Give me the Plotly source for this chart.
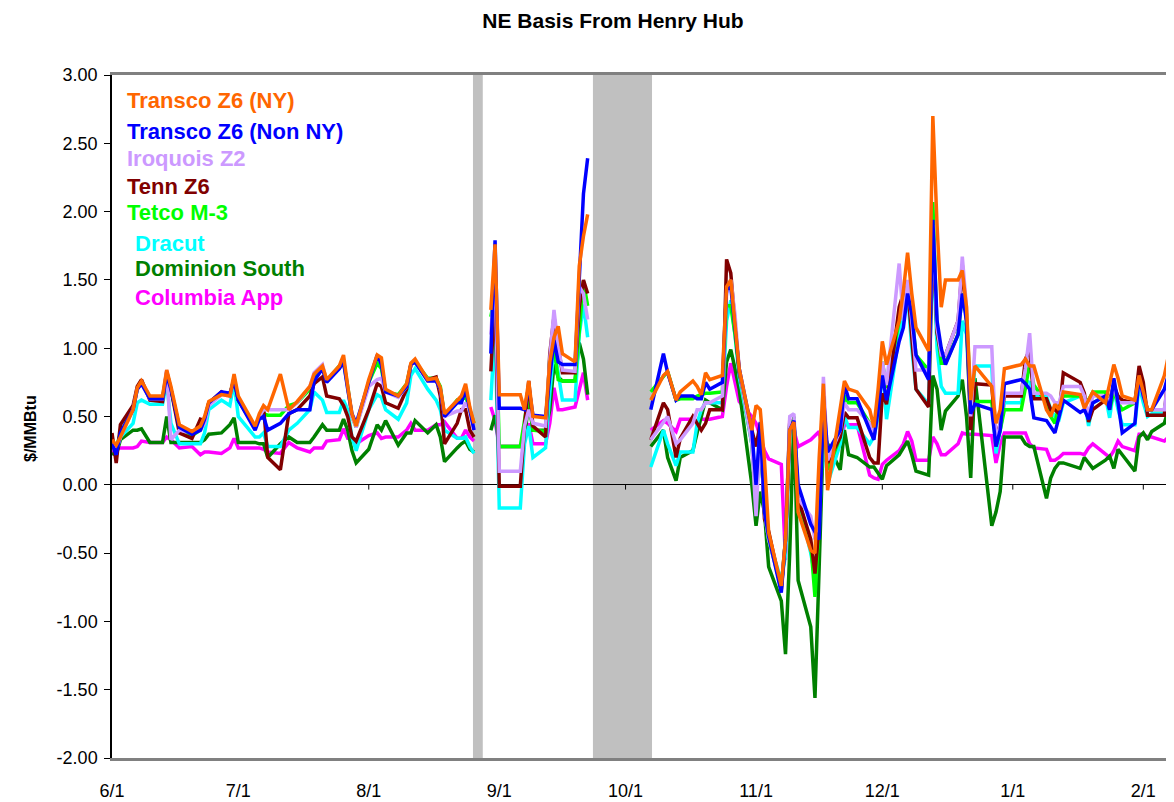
import plotly.graph_objects as go

# ---------------- data ----------------
dates_a = ["2005-06-01","2005-06-02","2005-06-03","2005-06-06","2005-06-07","2005-06-08","2005-06-10","2005-06-13","2005-06-14","2005-06-15",
           "2005-06-17","2005-06-20","2005-06-22","2005-06-23","2005-06-24","2005-06-27","2005-06-29","2005-06-30","2005-07-01","2005-07-05",
           "2005-07-06","2005-07-07","2005-07-08","2005-07-11","2005-07-13","2005-07-15","2005-07-18","2005-07-19","2005-07-21","2005-07-22",
           "2005-07-25","2005-07-26","2005-07-27","2005-07-28","2005-07-29","2005-08-01","2005-08-03","2005-08-04","2005-08-05","2005-08-08",
           "2005-08-10","2005-08-11","2005-08-12","2005-08-15","2005-08-17","2005-08-18","2005-08-19","2005-08-22","2005-08-23","2005-08-24",
           "2005-08-25","2005-08-26"]
gap_1 = "2005-08-29"
dates_b = ["2005-08-30","2005-08-31","2005-09-01","2005-09-06","2005-09-07","2005-09-08","2005-09-09","2005-09-12","2005-09-13","2005-09-14",
           "2005-09-15","2005-09-16","2005-09-19","2005-09-20","2005-09-21","2005-09-22"]
gap_2 = "2005-09-26"
dates_c = ["2005-10-07","2005-10-10","2005-10-11","2005-10-13","2005-10-14","2005-10-17","2005-10-18","2005-10-19","2005-10-20","2005-10-21",
           "2005-10-24","2005-10-25","2005-10-26","2005-10-27","2005-10-28","2005-10-31","2005-11-01","2005-11-02","2005-11-03","2005-11-04",
           "2005-11-07","2005-11-08","2005-11-09","2005-11-10","2005-11-11","2005-11-14","2005-11-15","2005-11-16","2005-11-17","2005-11-18",
           "2005-11-21","2005-11-22","2005-11-23","2005-11-25","2005-11-28","2005-11-29","2005-11-30","2005-12-01","2005-12-02","2005-12-05",
           "2005-12-06","2005-12-07","2005-12-08","2005-12-09","2005-12-12","2005-12-13","2005-12-14","2005-12-15","2005-12-16","2005-12-19",
           "2005-12-20","2005-12-21","2005-12-22","2005-12-23","2005-12-27","2005-12-28","2005-12-29","2005-12-30","2006-01-03","2006-01-04",
           "2006-01-05","2006-01-06","2006-01-09","2006-01-10","2006-01-11","2006-01-12","2006-01-13","2006-01-17","2006-01-18","2006-01-19",
           "2006-01-20","2006-01-23","2006-01-24","2006-01-25","2006-01-26","2006-01-27","2006-01-30","2006-01-31","2006-02-01","2006-02-02",
           "2006-02-03","2006-02-06","2006-02-07","2006-02-08"]

transco_ny_a = [.33,.29,.35,.55,.71,.76,.65,.65,.84,.72, .44,.39,.43,.50,.61,.66,.65,.81,.65,.43,
                .52,.58,.55,.81,.55,.61,.72,.81,.87,.77, .87,.95,.72,.52,.43,.77,.95,.93,.70,.65,
                .74,.89,.92,.77,.78,.71,.52,.62,.65,.74, .57,.45]
transco_ny_b = [1.28,1.76,.66,.66,.55,.76,.50,.49,.90,1.08,1.16,.96,.90,1.60,1.82,1.98]
transco_ny_c = [.62,.80,.83,.62,.68,.76,.72,.66,.82,.77, .80,1.45,1.50,1.20,.85,.40,.58,.55,.18,-.35,
                -.74,-.40,.40,.46,-.20,-.48,-.50,.20,.74,-.04, .55,.76,.70,.68,.55,.42,.70,1.05,.88,1.20,
                1.42,1.70,1.40,1.15,.98,2.70,1.90,1.30,1.50,1.50, 1.57,1.30,.62,.87,.72,.45,.55,.85,.88,.92,
                .87,.87,.55,.50,.59,.55,.68,.66,.56,.62, .68,.60,.75,.88,.78,.65,.62,.80,.68,.55,
                .55,.80,.95,1.00]

transco_nonny_a = [.30,.22,.38,.55,.70,.74,.63,.63,.80,.70, .42,.37,.40,.48,.60,.68,.67,.76,.62,.40,
                   .48,.50,.40,.45,.52,.55,.55,.76,.85,.75, .85,.90,.70,.52,.45,.74,.95,.88,.68,.65,
                   .72,.88,.90,.76,.76,.70,.50,.60,.60,.70, .55,.40]
transco_nonny_b = [.96,1.79,.56,.56,.55,.72,.51,.50,.79,1.06,.90,.88,.88,1.48,2.13,2.39]
transco_nonny_c = [.55,.96,.82,.62,.65,.65,.63,.63,.75,.70, .75,1.43,1.45,1.15,.85,.40,.00,.46,-.20,-.38,
                   -.79,-.40,.40,.47,.00,-.29,-.35,-.40,.65,.24, .40,.73,.63,.63,.40,.33,.55,.80,.62,1.05,
                   1.15,1.40,1.25,.95,.77,1.94,1.20,1.00,.88,1.10, 1.40,1.20,.52,.59,.55,.28,.40,.74,.77,.74,
                   .70,.49,.47,.43,.38,.50,.62,.53,.55,.48, .60,.65,.55,.78,.60,.38,.45,.79,.65,.55,
                   .55,.70,.82,.92]

iroquois_a = [.30,.25,.35,.55,.70,.74,.63,.63,.84,.33, .40,.38,.40,.45,.58,.66,.65,.78,.63,.42,
              .50,.55,.55,.55,.55,.60,.72,.82,.88,.76, .85,.92,.70,.50,.42,.72,.77,.78,.68,.64,
              .72,.88,.90,.77,.77,.70,.50,.54,.54,.60, .55,.40]
iroquois_b = [1.10,1.60,.10,.10,.43,.55,.45,.43,.92,1.28,1.01,.84,.83,1.45,1.40,1.21]
iroquois_c = [.33,.45,.50,.30,.33,.45,.55,.55,.60,.60, .65,1.40,1.50,1.25,.85,.30,-.23,.40,-.20,-.40,
              -.75,-.40,.50,.52,-.10,-.23,-.40,-.20,.79,.18, .40,.60,.55,.55,.45,.35,.60,.90,.73,1.62,
              1.20,1.50,1.20,.84,.84,1.90,1.15,.95,.95,1.20, 1.67,1.30,.50,1.01,1.01,.30,.45,.67,.67,.85,
              1.11,.67,.67,.65,.60,.60,.72,.72,.65,.50, .65,.65,.60,.73,.60,.60,.60,.75,.65,.55,
              .55,.55,.80,.90]

tenn_a = [.38,.16,.44,.58,.72,.77,.62,.61,.83,.70, .38,.34,.48,.47,.60,.68,.65,.78,.62,.42,
          .50,.57,.20,.11,.52,.55,.65,.74,.79,.65, .63,.58,.50,.35,.32,.55,.74,.72,.60,.56,
          .70,.88,.90,.77,.79,.65,.30,.45,.55,.55, .40,.35]
tenn_b = [.83,1.40,-.01,-.01,.43,.76,.43,.35,.96,1.23,1.01,.82,.82,1.30,1.50,1.40]
tenn_c = [.33,.60,.55,.20,.34,.50,.45,.40,.45,.55, .55,1.65,1.55,1.18,.82,.40,.28,.45,-.25,-.34,
          -.77,-.40,.45,.45,-.10,-.40,-.65,-.30,.60,.16, .35,.53,.49,.49,.20,.16,.16,.67,.59,1.30,
          1.40,1.45,1.10,.70,.57,1.84,1.11,.95,.95,1.20, 1.61,1.20,.40,.74,.73,.33,.45,.65,.65,.92,
          .99,.63,.63,.55,.55,.52,.82,.75,.67,.46, .55,.62,.62,.73,.65,.62,.60,.87,.75,.51,
          .51,.51,.85,1.01]

tetco_a = [.30,.27,.38,.55,.70,.75,.64,.64,.82,.70, .42,.36,.40,.48,.60,.67,.66,.78,.62,.42,
           .50,.52,.51,.51,.58,.60,.70,.80,.86,.76, .87,.90,.72,.50,.42,.75,.89,.85,.68,.66,
           .74,.88,.90,.78,.78,.72,.50,.62,.62,.65, .55,.45]
tetco_b = [1.23,1.40,.28,.28,.47,.67,.40,.39,.92,1.01,.77,.76,.76,1.16,1.49,1.31]
tetco_c = [.68,.80,.83,.62,.63,.63,.65,.66,.67,.67, .68,1.31,1.31,1.10,.84,.30,-.16,.40,-.20,-.40,
           -.75,-.40,.45,.47,-.10,-.43,-.82,-.30,.60,.11, .35,.65,.60,.60,.45,.38,.60,.90,.71,1.20,
           1.31,1.45,1.25,.95,.84,2.07,1.13,.89,.89,1.10, 1.40,1.25,.60,.61,.61,.28,.40,.55,.55,.71,
           .89,.73,.60,.50,.45,.59,.65,.65,.62,.62, .68,.68,.55,.68,.60,.55,.60,.77,.65,.55,
           .55,.55,.70,.79]

dracut_a = [.30,.25,.35,.45,.60,.62,.59,.59,.75,.45, .30,.30,.30,.38,.55,.62,.58,.75,.50,.35,
            .35,.38,.28,.28,.40,.45,.55,.68,.62,.53, .53,.62,.55,.35,.25,.55,.66,.64,.55,.48,
            .60,.80,.85,.70,.62,.55,.40,.34,.34,.35, .28,.23]
dracut_b = [.62,1.16,-.17,-.17,.30,.43,.20,.27,.67,1.00,.82,.62,.62,1.10,1.32,1.08]
dracut_c = [.13,.40,.30,.14,.24,.24,.45,.55,.60,.60, .60,1.20,1.35,1.10,.79,.30,-.05,.40,-.20,-.40,
            -.70,-.52,.40,.45,-.10,-.50,-.67,-.30,.45,.01, .30,.50,.42,.42,.30,.35,.50,.87,.48,1.10,
            1.26,1.40,1.00,.70,.59,1.75,1.00,.72,.67,.67, 1.20,1.10,.48,.87,.87,.23,.40,.60,.60,.76,
            .75,.65,.65,.55,.50,.48,.60,.65,.62,.43, .60,.65,.49,.70,.55,.44,.44,.73,.60,.50,
            .52,.52,.70,.80]

dominion_a = [.23,.22,.33,.40,.40,.41,.31,.31,.50,.31, .31,.31,.31,.33,.37,.38,.44,.49,.31,.31,
              .30,.30,.20,.30,.35,.31,.31,.35,.44,.40, .40,.48,.40,.25,.16,.26,.44,.40,.47,.29,
              .38,.38,.47,.38,.44,.35,.17,.27,.30,.32, .26,.24]
dominion_b = [.40,.51,.28,.28,.35,.60,.40,.40,.55,.88,.79,.76,.76,1.04,.92,.66]
dominion_c = [.28,.40,.20,.03,.20,.25,.38,.50,.62,.60, .55,.90,.99,.85,.70,.00,-.30,-.05,-.20,-.60,
              -.85,-1.24,-.50,.50,-.70,-1.04,-1.56,-.60,.38,.30, .11,.40,.22,.20,.13,.13,.08,.04,.14,.22,
              .27,.32,.22,.10,.07,.80,.70,.40,.54,.65, .77,.50,.05,.78,-.30,-.20,-.05,.35,.35,.30,
              .28,.28,-.10,.05,.12,.16,.16,.12,.20,.16, .12,.18,.21,.12,.26,.22,.10,.35,.38,.33,
              .39,.45,.56,.57]

columbia_a = [.22,.27,.27,.27,.28,.32,.31,.31,.35,.33, .27,.28,.22,.24,.24,.23,.27,.34,.27,.27,
              .27,.26,.24,.23,.31,.27,.24,.27,.27,.32, .33,.41,.34,.34,.30,.36,.38,.34,.35,.35,
              .40,.45,.40,.40,.44,.44,.46,.34,.34,.40, .35,.32]
columbia_b = [.57,.47,.28,.28,.35,.45,.30,.30,.45,.71,.55,.55,.57,.70,.82,.62]
columbia_c = [.40,.47,.45,.39,.48,.48,.46,.48,.48,.48, .50,.72,.89,.75,.61,.50,.45,.35,.25,.19,
              .15,-.55,.48,.40,.28,.33,.36,.39,.20,.16, .30,.44,.44,.44,.07,.05,.04,.15,.18,.25,
              .30,.39,.32,.18,.18,.35,.30,.22,.22,.30, .38,.37,.37,.37,.36,.16,.30,.38,.38,.38,
              .30,.27,.26,.18,.18,.20,.23,.23,.22,.27, .30,.23,.20,.25,.32,.28,.25,.37,.37,.35,
              .35,.32,.35,.35]

series_names = ["Transco Z6 (NY)", "Transco Z6 (Non NY)", "Iroquois Z2", "Tenn Z6",
                "Tetco M-3", "Dracut", "Dominion South", "Columbia App"]
series_colors = ["#FF6600", "#0000FF", "#CC99FF", "#800000",
                 "#00FF00", "#00FFFF", "#008000", "#FF00FF"]
series_parts = [
    (transco_ny_a, transco_ny_b, transco_ny_c),
    (transco_nonny_a, transco_nonny_b, transco_nonny_c),
    (iroquois_a, iroquois_b, iroquois_c),
    (tenn_a, tenn_b, tenn_c),
    (tetco_a, tetco_b, tetco_c),
    (dracut_a, dracut_b, dracut_c),
    (dominion_a, dominion_b, dominion_c),
    (columbia_a, columbia_b, columbia_c),
]

month_ticks = ["2005-06-01", "2005-07-01", "2005-08-01", "2005-09-01", "2005-10-01",
               "2005-11-01", "2005-12-01", "2006-01-01", "2006-02-01"]
month_labels = ["6/1", "7/1", "8/1", "9/1", "10/1", "11/1", "12/1", "1/1", "2/1"]
y_ticks = [-2.0, -1.5, -1.0, -0.5, 0.0, 0.5, 1.0, 1.5, 2.0, 2.5, 3.0]

band_starts = ["2005-08-25 18:00", "2005-09-23 06:00"]
band_ends = ["2005-08-28 02:00", "2005-10-07 07:00"]

# ---------------- figure ----------------
all_dates = dates_a + [gap_1] + dates_b + [gap_2] + dates_c

fig = go.Figure()
draw_order = [7, 6, 5, 4, 3, 2, 1, 0]
for i in draw_order:
    a, b, c = series_parts[i]
    for part, ref, nm in ((a, dates_a, "a"), (b, dates_b, "b"), (c, dates_c, "c")):
        if len(part) != len(ref):
            raise ValueError(f"{series_names[i]} part {nm}: {len(part)} vs {len(ref)}")
    vals = list(a) + [None] + list(b) + [None] + list(c)
    fig.add_trace(go.Scatter(x=all_dates, y=vals, mode="lines", name=series_names[i],
                             line=dict(color=series_colors[i], width=3.5),
                             connectgaps=False, showlegend=False))

FONT = "Liberation Sans, Arial, Helvetica, sans-serif"
OFF = 8  # page body margin of the html page
PAGE_W, PAGE_H = 1174, 802
W, H = PAGE_W - OFF, PAGE_H - OFF
PL, PT, PR, PB = 112, 75, 1174, 758     # plot box in page pixels
L, T, R, B = PL - OFF, PT - OFF, PAGE_W - PR, PAGE_H - PB
pw, ph = PR - PL, PB - PT

shapes = []
for s, e in zip(band_starts, band_ends):
    shapes.append(dict(type="rect", xref="x", yref="paper", x0=s, x1=e, y0=0, y1=1,
                       fillcolor="#C0C0C0", line=dict(width=0), layer="between"))
for d in month_ticks[1:]:
    shapes.append(dict(type="line", xref="x", yref="y", x0=d, x1=d, y0=0, y1=-0.035,
                       line=dict(color="black", width=1), layer="between"))

annotations = []
leg_y = [100, 131, 158, 186, 213, 243, 268, 297]
leg_x = [125, 125, 125, 125, 125, 133, 133, 133]
for name, col, px, py in zip(series_names, series_colors, leg_x, leg_y):
    annotations.append(dict(text=f"<b>{name}</b>", xref="paper", yref="paper",
                            x=(px - PL) / pw, y=(PB - py) / ph, xanchor="left", yanchor="middle",
                            showarrow=False, font=dict(family=FONT, size=22, color=col)))
annotations.append(dict(text="<b>$/MMBtu</b>", xref="paper", yref="paper",
                        x=(30 - PL) / pw, y=(PB - 429) / ph, xanchor="center", yanchor="middle",
                        textangle=-90, showarrow=False, font=dict(family=FONT, size=16, color="black")))

fig.update_layout(
    width=W, height=H,
    margin=dict(l=L, r=R, t=T, b=B, autoexpand=False),
    paper_bgcolor="white", plot_bgcolor="white",
    showlegend=False,
    font=dict(family=FONT, color="black"),
    title=dict(text="<b>NE Basis From Henry Hub</b>", x=(613 - OFF) / W, xanchor="center",
               y=1 - (21 - OFF) / H, yanchor="middle", font=dict(family=FONT, size=21, color="black")),
    shapes=shapes,
    annotations=annotations,
)
fig.update_xaxes(type="date", range=["2005-06-01", "2006-02-08 07:00"],
                 tickmode="array", tickvals=month_ticks, ticktext=month_labels,
                 ticks="", showgrid=False, zeroline=False,
                 showline=True, linecolor="#808080", linewidth=3, mirror=True,
                 tickfont=dict(family=FONT, size=18, color="black"), ticklabelstandoff=14)
fig.update_yaxes(range=[-2, 3], tickmode="array", tickvals=y_ticks,
                 ticktext=[f"{v:.2f}" for v in y_ticks],
                 ticks="outside", ticklen=6, tickcolor="black", tickwidth=1,
                 showline=True, linecolor="black", linewidth=1.5,
                 showgrid=False, zeroline=True, zerolinecolor="black", zerolinewidth=1,
                 tickfont=dict(family=FONT, size=18, color="black"), ticklabelstandoff=3)

fig.write_html("out.html")
